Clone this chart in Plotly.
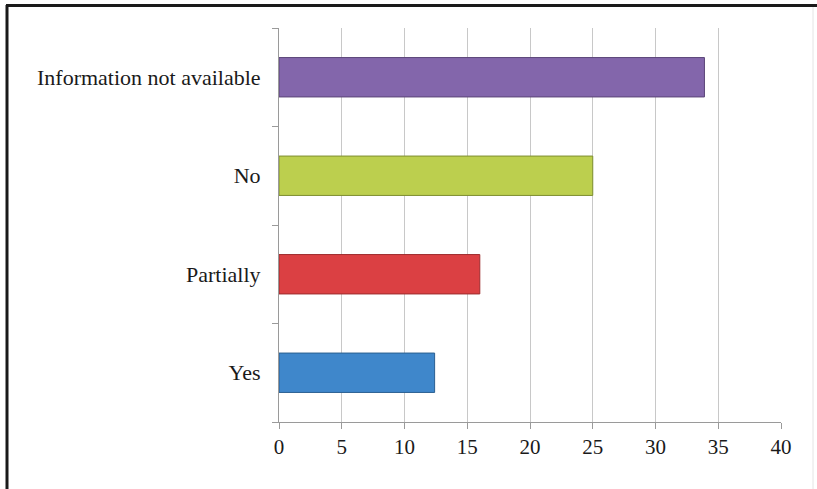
import plotly.graph_objects as go

categories = ["Yes", "Partially", "No", "Information not available"]
values = [12.4, 16.0, 25.0, 33.9]
colors = ["#3F87CB", "#DB4043", "#BCCF4E", "#8366AB"]
edge_colors = ["#2B5F91", "#9E2C2E", "#7E8E30", "#5B4578"]
x_ticks = [0, 5, 10, 15, 20, 25, 30, 35, 40]

W, H = 817, 489
L, R, T, B = 279, 36, 28, 67
pw, ph = W - L - R, H - T - B

def px_to_paper_x(px):
    return (px - L) / pw

def px_to_paper_y(py):
    return (H - B - py) / ph

fig = go.Figure()
fig.add_trace(go.Bar(
    x=values, y=categories, orientation="h",
    width=0.4,
    marker=dict(color=colors, line=dict(color=edge_colors, width=1)),
    hoverinfo="x+y",
))

font_family = "Liberation Serif, Times New Roman, serif"

fig.update_layout(
    width=W, height=H,
    margin=dict(l=L, r=R, t=T, b=B),
    paper_bgcolor="white", plot_bgcolor="white",
    showlegend=False,
    font=dict(family=font_family, size=21, color="#1A1A1A"),
    xaxis=dict(
        range=[0, 40], tickvals=x_ticks, ticktext=[str(v) for v in x_ticks],
        showgrid=True, gridcolor="#C8C8C8", gridwidth=1,
        showline=True, linecolor="#9A9A9A", linewidth=1,
        ticks="outside", ticklen=6, tickcolor="#9A9A9A",
        zeroline=False, fixedrange=True,
        tickfont=dict(family=font_family, size=21, color="#1A1A1A"),
    ),
    yaxis=dict(
        categoryorder="array", categoryarray=categories,
        showline=True, linecolor="#9A9A9A", linewidth=1,
        ticks="outside", ticklen=6, tickcolor="#9A9A9A",
        tickson="boundaries", ticklabelstandoff=13,
        showgrid=False, zeroline=False, fixedrange=True,
        tickfont=dict(family=font_family, size=22, color="#1A1A1A"),
    ),
    shapes=[
        dict(type="line", xref="paper", yref="paper",
             x0=px_to_paper_x(7), x1=px_to_paper_x(7),
             y0=px_to_paper_y(5), y1=px_to_paper_y(489),
             line=dict(color="#1A1A1A", width=3)),
        dict(type="line", xref="paper", yref="paper",
             x0=px_to_paper_x(6), x1=px_to_paper_x(817),
             y0=px_to_paper_y(5.5), y1=px_to_paper_y(5.5),
             line=dict(color="#1A1A1A", width=3)),
        dict(type="line", xref="paper", yref="paper",
             x0=px_to_paper_x(813), x1=px_to_paper_x(813),
             y0=px_to_paper_y(7), y1=px_to_paper_y(489),
             line=dict(color="#E4E4E4", width=1)),
    ],
)

fig.write_html("out.html", config={"displayModeBar": False},
               post_script="document.body.style.margin='0';")
